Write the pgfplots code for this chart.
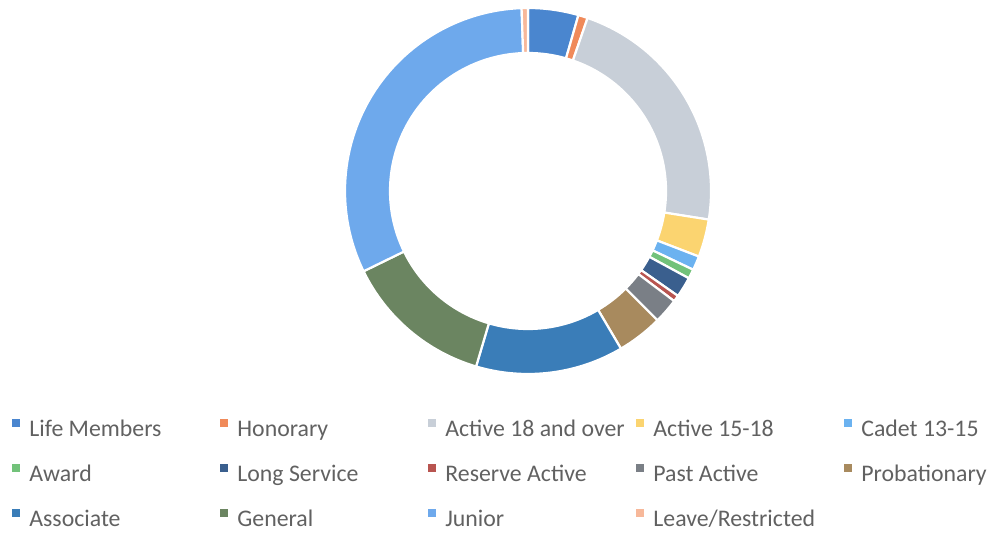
\documentclass[border=0pt]{standalone}
\usepackage{fontspec}
\setmainfont{Carlito}
\usepackage{pgfplots}
\usepackage{pgfplotstable}
\pgfplotsset{compat=1.18}
\definecolor{seg0}{HTML}{4A86CF}
\definecolor{seg1}{HTML}{F08A5A}
\definecolor{seg2}{HTML}{C8CFD8}
\definecolor{seg3}{HTML}{FBD470}
\definecolor{seg4}{HTML}{6BB2F0}
\definecolor{seg5}{HTML}{72C27A}
\definecolor{seg6}{HTML}{3A5F8E}
\definecolor{seg7}{HTML}{B85450}
\definecolor{seg8}{HTML}{7A7F86}
\definecolor{seg9}{HTML}{A88A5E}
\definecolor{seg10}{HTML}{3A7DB8}
\definecolor{seg11}{HTML}{6B8561}
\definecolor{seg12}{HTML}{6EA9EC}
\definecolor{seg13}{HTML}{F7B89A}
\definecolor{legendgray}{HTML}{616161}
\pgfplotstableread[col sep=comma]{
label,value
Life Members,16
Honorary,3
Active 18 and over,80
Active 15-18,12
Cadet 13-15,4.5
Award,3
Long Service,6.5
Reserve Active,2
Past Active,8
Probationary,14.5
Associate,47
General,47.5
Junior,114
Leave/Restricted,2
}\donutdata
\begin{document}
\begin{tikzpicture}
% angles computed from the table values (before the axis)
\pgfplotstablegetrowsof{\donutdata}%
\pgfmathtruncatemacro\lastrow{\pgfplotsretval-1}%
\gdef\segtot{0}%
\foreach \i in {0,...,\lastrow}{%
  \pgfplotstablegetelem{\i}{value}\of\donutdata
  \pgfmathsetmacro\segtmp{\segtot+\pgfplotsretval}\xdef\segtot{\segtmp}}%
\gdef\segstart{0}%
\foreach \i in {0,...,\lastrow}{%
  \pgfplotstablegetelem{\i}{value}\of\donutdata
  \pgfmathsetmacro\segend{\segstart+\pgfplotsretval/\segtot*360}%
  \pgfmathsetmacro\ax{528+183*sin(\segstart)}%
  \pgfmathsetmacro\ay{351+183*cos(\segstart)}%
  \pgfmathsetmacro\bx{528+138*sin(\segend)}%
  \pgfmathsetmacro\by{351+138*cos(\segend)}%
  \pgfmathsetmacro\sa{90-\segstart}%
  \pgfmathsetmacro\ea{90-\segend}%
  \expandafter\xdef\csname segAX\i\endcsname{\ax}%
  \expandafter\xdef\csname segAY\i\endcsname{\ay}%
  \expandafter\xdef\csname segBX\i\endcsname{\bx}%
  \expandafter\xdef\csname segBY\i\endcsname{\by}%
  \expandafter\xdef\csname segSA\i\endcsname{\sa}%
  \expandafter\xdef\csname segEA\i\endcsname{\ea}%
  \xdef\segstart{\segend}}%
\begin{axis}[x=0.5pt,y=0.5pt,xmin=0,xmax=989,ymin=0,ymax=542,hide axis,clip=false,
  legend columns=5,
  legend cell align=left,
  legend style={at={(axis cs:12,123)},anchor=north west,draw=none,fill=none,inner sep=0pt,
    font=\fontsize{11.9}{14}\selectfont,text=legendgray,
    nodes={inner sep=0pt,text height=8.5pt,text depth=2.5pt},
    row sep=11.5pt,
    /tikz/every odd column/.append style={column sep=4.5pt},
    /tikz/every even column/.append style={column sep=0pt}},
  legend image code/.code={\fill[#1,draw=none] (0pt,1.5pt) rectangle (4pt,5.5pt);},
]
\path (axis cs:0,0) rectangle (axis cs:989,542);
\pgfplotsinvokeforeach{0,...,13}{%
  \fill[fill=seg#1,draw=white,line width=1.1pt]
    (axis cs:\csname segAX#1\endcsname,\csname segAY#1\endcsname)
    arc[start angle=\csname segSA#1\endcsname,end angle=\csname segEA#1\endcsname,radius=91.5pt]
    -- (axis cs:\csname segBX#1\endcsname,\csname segBY#1\endcsname)
    arc[start angle=\csname segEA#1\endcsname,end angle=\csname segSA#1\endcsname,radius=69pt] -- cycle;
}
\addlegendimage{fill=seg0}\addlegendentry{\makebox[95.5pt][l]{Life Members}}
\addlegendimage{fill=seg1}\addlegendentry{\makebox[95.5pt][l]{Honorary}}
\addlegendimage{fill=seg2}\addlegendentry{\makebox[95.5pt][l]{Active 18 and over}}
\addlegendimage{fill=seg3}\addlegendentry{\makebox[95.5pt][l]{Active 15-18}}
\addlegendimage{fill=seg4}\addlegendentry{Cadet 13-15}
\addlegendimage{fill=seg5}\addlegendentry{\makebox[95.5pt][l]{Award}}
\addlegendimage{fill=seg6}\addlegendentry{\makebox[95.5pt][l]{Long Service}}
\addlegendimage{fill=seg7}\addlegendentry{\makebox[95.5pt][l]{Reserve Active}}
\addlegendimage{fill=seg8}\addlegendentry{\makebox[95.5pt][l]{Past Active}}
\addlegendimage{fill=seg9}\addlegendentry{Probationary}
\addlegendimage{fill=seg10}\addlegendentry{\makebox[95.5pt][l]{Associate}}
\addlegendimage{fill=seg11}\addlegendentry{\makebox[95.5pt][l]{General}}
\addlegendimage{fill=seg12}\addlegendentry{\makebox[95.5pt][l]{Junior}}
\addlegendimage{fill=seg13}\addlegendentry{\makebox[95.5pt][l]{Leave/Restricted}}
\end{axis}
\end{tikzpicture}
\end{document}
